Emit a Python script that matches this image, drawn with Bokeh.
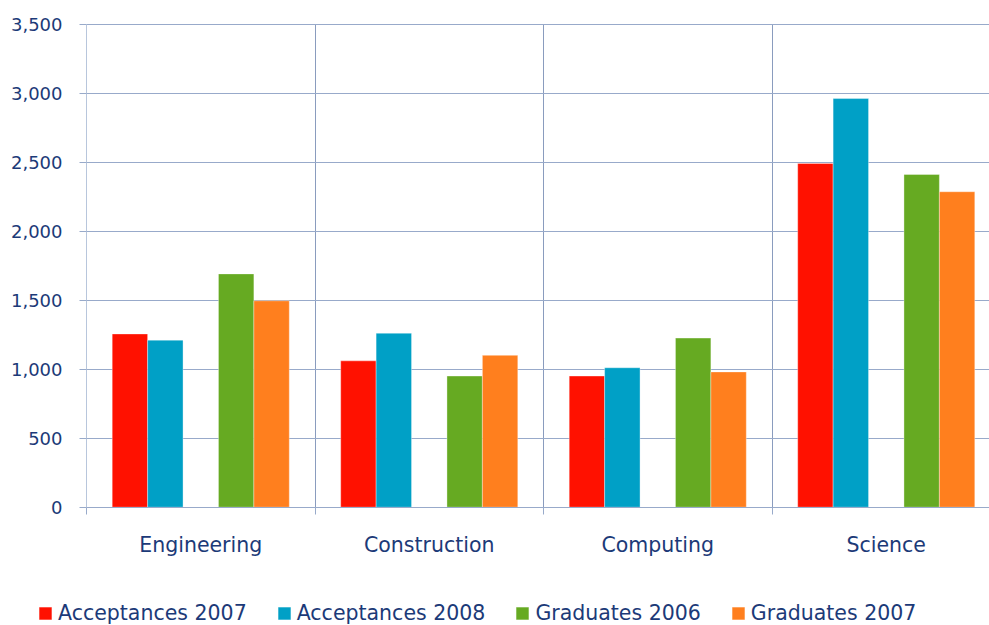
from bokeh.plotting import figure
from bokeh.models import (ColumnDataSource, Range1d, FixedTicker, NumeralTickFormatter,
                          Legend, LegendItem)
from bokeh.transform import dodge
from bokeh.embed import file_html
from bokeh.resources import INLINE

categories = ["Engineering", "Construction", "Computing", "Science"]
series_names = ["Acceptances 2007", "Acceptances 2008", "Graduates 2006", "Graduates 2007"]
acceptances_2007 = [1255, 1060, 950, 2490]
acceptances_2008 = [1210, 1260, 1010, 2960]
graduates_2006 = [1690, 950, 1225, 2410]
graduates_2007 = [1495, 1100, 980, 2285]
y_ticks = [0, 500, 1000, 1500, 2000, 2500, 3000, 3500]

colors = ["#FF1100", "#00A0C6", "#66AA22", "#FF7F1E"]
text_color = "#1C3A78"
grid_color = "#98AACA"
font = "DejaVu Sans"

# pixel layout: category width 228.5px, x=0 at px 86; y=0 at px 506.7, 3500 at px 23.5
W, H = 989, 625
cat_px = 228.5
x0_px = 86.0
y_per_px = 3500 / (506.7 - 23.5)
x_start = -x0_px / cat_px
x_end = (W - x0_px) / cat_px
y_end = 3500 + 23.5 * y_per_px
y_start = -(H - 506.7) * y_per_px

xc = [i + 0.5 for i in range(len(categories))]
source = ColumnDataSource(dict(x=xc, a07=acceptances_2007, a08=acceptances_2008,
                               g06=graduates_2006, g07=graduates_2007))

p = figure(width=W, height=H, output_backend="svg", toolbar_location=None,
           x_range=Range1d(x_start, x_end), y_range=Range1d(y_start, y_end),
           min_border=0, min_border_left=0, min_border_right=0,
           min_border_top=0, min_border_bottom=0)
p.outline_line_color = None

bw = 0.155
offsets = [-2 * bw, -bw, bw, 2 * bw]
fields = ["a07", "a08", "g06", "g07"]
renderers = []
for f, off, c in zip(fields, offsets, colors):
    r = p.vbar(x=dodge("x", off, range=p.x_range), top=f, bottom=0, width=bw, source=source,
               fill_color=c, line_color="white", line_alpha=0.35, line_width=1)
    renderers.append(r)

# y axis
p.yaxis.fixed_location = 0
p.yaxis.bounds = (0, 3500)
p.yaxis.ticker = FixedTicker(ticks=y_ticks)
p.yaxis.formatter = NumeralTickFormatter(format="0,0")
p.yaxis.major_label_text_font = font
p.yaxis.major_label_text_font_size = "18px"
p.yaxis.major_label_text_color = text_color
p.yaxis.major_tick_out = 7
p.yaxis.major_tick_in = 0
p.yaxis.major_tick_line_color = grid_color
p.yaxis.minor_tick_line_color = None
p.yaxis.axis_line_color = "#B8C6DC"
p.yaxis.major_label_standoff = 17

# x axis
p.xaxis.fixed_location = 0
p.xaxis.bounds = (0, x_end)
p.xaxis.ticker = FixedTicker(ticks=xc, minor_ticks=list(range(len(categories) + 1)))
p.xaxis.major_label_overrides = {x: c for x, c in zip(xc, categories)}
p.xaxis.major_label_text_font = font
p.xaxis.major_label_text_font_size = "20.5px"
p.xaxis.major_label_text_color = text_color
p.xaxis.major_tick_line_color = None
p.xaxis.major_tick_out = 0
p.xaxis.major_tick_in = 0
p.xaxis.minor_tick_out = 7
p.xaxis.minor_tick_in = 0
p.xaxis.minor_tick_line_color = grid_color
p.xaxis.axis_line_color = grid_color
p.xaxis.major_label_standoff = 19

# grids
p.ygrid.ticker = FixedTicker(ticks=y_ticks)
p.ygrid.grid_line_color = grid_color
p.ygrid.cross_bounds = (0, x_end)
p.xgrid.ticker = FixedTicker(ticks=list(range(1, len(categories))))
p.xgrid.grid_line_color = "#8A9CBE"
p.xgrid.cross_bounds = (0, 3500)

legend = Legend(items=[LegendItem(label=n, renderers=[r]) for n, r in zip(series_names, renderers)],
                orientation="horizontal", location=(37, 0),
                glyph_width=16, glyph_height=16, label_standoff=5, spacing=29,
                label_text_font=font, label_text_font_size="20.5px", label_text_color=text_color,
                label_height=20, padding=0, margin=0, border_line_color=None,
                background_fill_alpha=0)
p.add_layout(legend, "center")

open("out.html", "w").write(file_html(p, INLINE))
